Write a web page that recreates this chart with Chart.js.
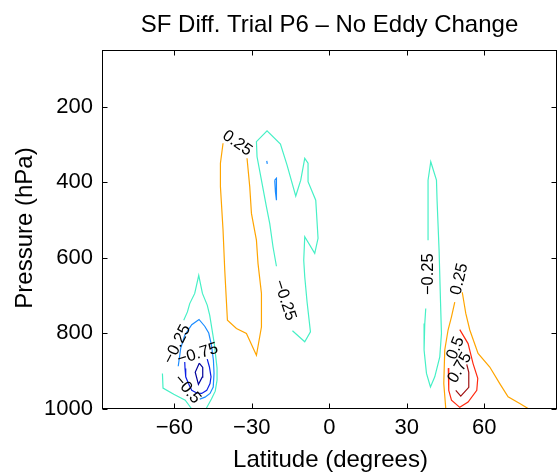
<!DOCTYPE html>
<html>
<head>
<meta charset="utf-8">
<script src="https://cdn.jsdelivr.net/npm/chart.js@4.4.0/dist/chart.umd.min.js"></script>
<style>
  html, body { margin: 0; padding: 0; background: #fff; }
</style>
</head>
<body>
<canvas id="sfChart" width="557" height="472"></canvas>
<script>
// axis ticks
const latTicks = [-60, -30, 0, 30, 60];
const presTicks = [200, 400, 600, 800, 1000];

// contour lines, latitude (deg) / pressure (hPa); null = gap under a label
// SH upper, +0.25
const posSHLat = [-41.13, -42.14, -42.14, -41.13, -40.47, -39.43, -35.94, -32.07, -28.2, -26.26, -26.26, -27.58, -28.2, -30.13, -30.79, -31.84];
const posSHP = [297, 350, 412, 527, 633, 766, 788, 801, 859, 784, 695, 616, 554, 483, 412, 337];

// SH upper, -0.25
const negMidLat = [-14.25, -9.49, -7.28, -8.6, -9.49, -9.88, -9.49, -5.62, -4.34, -5.23, -8.21, -8.21, -9.49, -11.04, -12.97, -16.34, -18.9, -24.09, -28.2, -27.96, -26.26, -24.32, -23.04, -21.77, -20.45];
const negMidP = [794, 823, 797, 717, 651, 607, 545, 589, 549, 448, 399, 350, 337, 395, 437, 355, 299, 264, 293, 333, 395, 466, 510, 572, 623];

// SH upper, -0.5 (small pieces)
const neg05MidLat = [-21.11, -20.45, -20.45, -20.84, -21.11];
const neg05MidP = [395, 390, 448, 426, 395];
const neg05DotLat = [-24.2, -24.0];
const neg05DotP = [344, 352];

// SH low, -0.25
const negLowLat = [-47.64, -45.62, -44.15, -43.45, -43.45, -44.54, -46.28, -47.25, -49.11, -50.54, -52.09, -54.03, -54.92, -56.35, null, -64.6, -64.37, -60.22, -55.77, -53.37];
const negLowP = [1000, 975, 954, 925, 893, 827, 753, 726, 695, 647, 695, 722, 744, 766, null, 907, 946, 962, 978, 1000];

// SH low, -0.5
const neg05LowLat = [-50.15, -48.1, -46.17, -44.93, -44.62, -44.85, -45.62, -46.67, -48.22, -50.43, -53.25, -55.96, -57.51, -58.48];
const neg05LowP = [975, 970, 960, 943, 907, 872, 832, 800, 782, 764, 778, 806, 840, 888];

// SH low, -0.75
const neg075Lat = [-55.96, -55.85, -55.58, -54.53, -53.25, -51.32, -49.38, -47.44, -46.17, -45.78, -46.4, -47.25];
const neg075P = [877, 894, 916, 934, 952, 959, 960, 952, 934, 916, 890, 869];

// SH low, -1
const neg1Lat = [-50.35, -51.9, -50.66, -49.19, -48.99, -50.35];
const neg1P = [880, 904, 936, 917, 891, 880];

// NH, -0.25
const negNHLat = [37.37, 36.99, 36.72, 37.65, 39.19, 40.86, 42.8, 43.45, 43.07, 42.53, 41.75, 41.52, 39.31, 38.26, 38.26];
const negNHP = [735, 775, 845, 907, 943, 916, 863, 801, 713, 580, 448, 395, 346, 395, 554];

// NH, +0.25
const posNHLat = [45.12, 44.35, 44.73, 46.01, 47.33, 48.61, null, 51.51, 52.87, 54.42, 57.63, 62.16, 66.03, 69.25, 73.78, 76.99];
const posNHP = [1000, 934, 845, 792, 757, 718, null, 692, 748, 792, 854, 890, 934, 969, 987, 1000];

// NH, +0.5
const pos05Lat = [46.09, 46.28, 47.33, 50.54, 53.76, 57.13, 57.51, 55.69, 53.76, 50.54];
const pos05P = [893, 952, 978, 997, 983, 952, 920, 881, 828, 791];

// NH, +0.75
const pos075Lat = [53.25, 54.03, 54.03, 50.93, 48.99];
const pos075P = [883, 904, 944, 967, 952];

// contour labels
const labelText = ["0.25", "\u22120.25", "\u22120.25", "\u22120.75", "\u22120.5", "\u22120.25", "0.25", "0.5", "0.75"];
const labelLat = [-35.63, -17.23, -58.87, -50.93, -55.0, 38.26, 50.43, 48.92, 50.54];
const labelP = [297, 713, 830, 856, 949, 644, 657, 840, 892];
const labelAngle = [35, 72, -63, -17, 50, -90, -77, -68, -60];

const FONT = '"Liberation Sans", Arial, Helvetica, sans-serif';

function pts(lat, p) {
  return lat.map((v, i) => ({ x: v, y: p[i] }));
}

function contour(lat, p, color) {
  return {
    data: pts(lat, p),
    showLine: true,
    borderColor: color,
    borderWidth: 1.2,
    pointRadius: 0,
    fill: false,
    spanGaps: false,
    tension: 0,
  };
}

// labels, box, inward ticks and titles
const frame = {
  id: "frame",
  afterDatasetsDraw(chart) {
    const { ctx, chartArea: a } = chart;
    const x = chart.scales.x;
    const y = chart.scales.y;
    ctx.save();

    ctx.fillStyle = "#000";
    ctx.font = "16.5px " + FONT;
    ctx.textAlign = "center";
    ctx.textBaseline = "middle";
    labelText.forEach((t, i) => {
      ctx.save();
      ctx.translate(x.getPixelForValue(labelLat[i]), y.getPixelForValue(labelP[i]));
      ctx.rotate((labelAngle[i] * Math.PI) / 180);
      ctx.fillText(t, 0, 0);
      ctx.restore();
    });

    const L = Math.round(a.left) + 0.5;
    const R = Math.round(a.right) - 0.5;
    const T = Math.round(a.top) + 0.5;
    const B = Math.round(a.bottom) - 0.5;
    ctx.strokeStyle = "#000";
    ctx.lineWidth = 1;
    ctx.strokeRect(L, T, R - L, B - T);
    ctx.beginPath();
    latTicks.forEach((v) => {
      const px = Math.round(x.getPixelForValue(v)) + 0.5;
      ctx.moveTo(px, B); ctx.lineTo(px, B - 5);
      ctx.moveTo(px, T); ctx.lineTo(px, T + 5);
    });
    presTicks.forEach((v) => {
      const py = Math.round(y.getPixelForValue(v)) + 0.5;
      ctx.moveTo(L, py); ctx.lineTo(L + 5, py);
      ctx.moveTo(R, py); ctx.lineTo(R - 5, py);
    });
    ctx.stroke();

    ctx.font = "24px " + FONT;
    ctx.textBaseline = "alphabetic";
    ctx.fillText("SF Diff. Trial P6 \u2013 No Eddy Change", 329.5, 32);
    ctx.fillText("Latitude (degrees)", 330.5, 467);
    ctx.translate(31.5, 228);
    ctx.rotate(-Math.PI / 2);
    ctx.fillText("Pressure (hPa)", 0, 0);
    ctx.restore();
  },
};

const cAqua = "#46F0C6";
const cOrange = "#FFA500";
const cDodger = "#1C8CFF";
const cBlue = "#0A1EE6";
const cNavy = "#00009A";
const cRed = "#FF2A10";
const cDarkRed = "#A01010";

new Chart(document.getElementById("sfChart"), {
  type: "scatter",
  data: {
    datasets: [
      contour(posSHLat, posSHP, cOrange),
      contour(negMidLat, negMidP, cAqua),
      contour(neg05MidLat, neg05MidP, cDodger),
      contour(neg05DotLat, neg05DotP, cDodger),
      contour(negLowLat, negLowP, cAqua),
      contour(neg05LowLat, neg05LowP, cDodger),
      contour(neg075Lat, neg075P, cBlue),
      contour(neg1Lat, neg1P, cNavy),
      contour(negNHLat, negNHP, cAqua),
      contour(posNHLat, posNHP, cOrange),
      contour(pos05Lat, pos05P, cRed),
      contour(pos075Lat, pos075P, cDarkRed),
    ],
  },
  options: {
    responsive: false,
    animation: false,
    layout: { padding: { top: 50, right: 0.5, left: 0, bottom: 0 } },
    plugins: { legend: { display: false }, tooltip: { enabled: false } },
    scales: {
      x: {
        type: "linear",
        min: -88,
        max: 88,
        grid: { display: false, drawTicks: false },
        border: { display: false },
        afterBuildTicks: (s) => { s.ticks = latTicks.map((v) => ({ value: v })); },
        afterFit: (s) => { s.height = 63.5; },
        ticks: {
          color: "#000",
          font: { size: 22, family: FONT },
          padding: 6,
          maxRotation: 0,
          autoSkip: false,
          callback: (v) => (v < 0 ? "\u2212" + Math.abs(v) : String(v)),
        },
      },
      y: {
        type: "linear",
        reverse: true,
        min: 50,
        max: 1000,
        grid: { display: false, drawTicks: false },
        border: { display: false },
        afterBuildTicks: (s) => { s.ticks = presTicks.map((v) => ({ value: v })); },
        afterFit: (s) => { s.width = 102; },
        ticks: {
          color: "#000",
          font: { size: 22, family: FONT },
          padding: 9,
          autoSkip: false,
          callback: (v) => String(v),
        },
      },
    },
  },
  plugins: [frame],
});
</script>
</body>
</html>
